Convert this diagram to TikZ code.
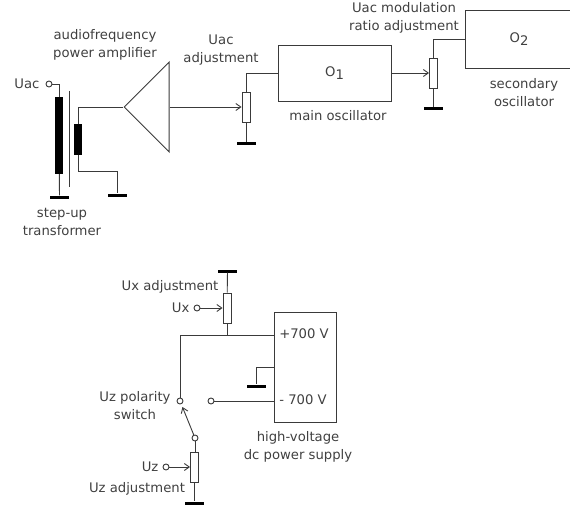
\documentclass[tikz,border=0pt]{standalone}
\usepackage{fontspec}
\setmainfont{DejaVu Sans}
\usetikzlibrary{arrows.meta, positioning, shapes.geometric}
\definecolor{wire}{HTML}{3A3A3A}
\newcommand{\osc}[1]{O\raisebox{-3pt}{#1}}
\tikzset{
  term/.style={circle, draw=wire, minimum size=6pt, inner sep=0pt, line width=0.9pt},
  pot/.style={rectangle, draw=wire, minimum width=8pt, minimum height=30pt, inner sep=0pt, line width=0.9pt},
  coil/.style={rectangle, fill=black, inner sep=0pt},
  gnd/.style={rectangle, fill=black, minimum width=19pt, minimum height=3pt, inner sep=0pt},
  block/.style={rectangle, draw=wire, inner sep=0pt, line width=0.9pt, font=\fontsize{13.2}{15}\selectfont, text=black!75},
  lbl/.style={font=\fontsize{13.2}{15}\selectfont, text=black!75, inner sep=0pt, align=center},
  wired/.style={draw=wire, line width=0.9pt},
}
\begin{document}
\begin{tikzpicture}[x=1pt, y=-1pt, >={Straight Barb[length=5pt,width=7pt]}]
  \useasboundingbox (0,0) rectangle (570,508);
  % transformer
  \node[term] (UacIn) at (49,84) {};
  \node[lbl, left=6pt of UacIn] (UacLbl) {Uac};
  \node[coil, minimum width=8pt, minimum height=77pt] (Prim) at (59,135.5) {};
  \node[coil, minimum width=8pt, minimum height=30pt] (Sec) at (78,139.5) {};
  \node[gnd] (GndPrim) at (59.5,197) {};
  \node[gnd] (GndSec) at (117,195) {};
  \coordinate (SecBend) at (117,171);
  \coordinate (CoreTop) at (69,91);
  \coordinate (CoreBot) at (69,187);
  \node[lbl] (TransLbl) at (62,222) {step-up\\[3pt]transformer};
  % amplifier
  \node[isosceles triangle, isosceles triangle stretches, draw=wire, line width=0.9pt, shape border rotate=180,
        minimum width=90pt, minimum height=45pt, inner sep=0pt, anchor=apex] (Amp) at (123,107) {};
  \node[lbl] (AmpLbl) at (105,45) {audiofrequency\\[3pt]power amplifier};
  % main oscillator
  \node[pot] (PotMain) at (246,107) {};
  \node[gnd] (GndMain) at (246,144) {};
  \node[lbl] (PotMainLbl) at (221,50) {Uac\\[3pt]adjustment};
  \node[block, minimum width=113pt, minimum height=56pt] (OscMain) at (334.5,73) {\osc{1}};
  \node[lbl, below=9pt of OscMain, xshift=3.5pt] (OscMainLbl) {main oscillator};
  % secondary oscillator
  \node[pot] (PotSec) at (433.5,73) {};
  \node[gnd] (GndSec2) at (433.5,109) {};
  \node[lbl] (PotSecLbl) at (404,18) {Uac modulation\\[3pt]ratio adjustment};
  \node[block, minimum width=108pt, minimum height=58pt] (OscSec) at (519,39) {\osc{2}};
  \node[lbl] (OscSecLbl) at (524,93) {secondary\\[3pt]oscillator};
  % power supply
  \node[block, minimum width=62pt, minimum height=110pt] (Supply) at (305,367) {};
  \node[lbl] (PlusLbl) at (304,334) {+700 V};
  \node[lbl] (MinusLbl) at (303,400) {- 700 V};
  \node[lbl] (SupplyLbl) at (298,446.5) {high-voltage\\[3pt]dc power supply};
  \node[gnd] (GndSupply) at (256,386) {};
  \coordinate (SupplyGnd) at (274,367);
  \coordinate (SupplyPlus) at (274,335);
  % Ux branch
  \node[pot] (PotUx) at (227,308) {};
  \node[gnd] (GndUx) at (227.5,271) {};
  \node[term] (UxIn) at (197,308) {};
  \node[lbl, left=4pt of UxIn] (UxLbl) {Ux};
  \node[lbl] (PotUxLbl) at (170,287) {Ux adjustment};
  % polarity switch
  \node[term] (SwA) at (180,401) {};
  \node[term] (SwB) at (211,401) {};
  \node[term] (SwC) at (195,438) {};
  \node[lbl] (SwLbl) at (135,406) {Uz polarity\\[3pt]switch};
  % Uz branch
  \node[pot] (PotUz) at (194.5,467) {};
  \node[gnd] (GndUz) at (194.5,503) {};
  \node[term] (UzIn) at (166,467) {};
  \node[lbl, left=4pt of UzIn] (UzLbl) {Uz};
  \node[lbl] (PotUzLbl) at (137,489) {Uz adjustment};
  % connectors, top row
  \begin{scope}[wired]
    \draw (UacIn) -| (Prim.north);
    \draw (Prim) -- (GndPrim);
    \draw (CoreTop) -- (CoreBot);
    \draw (Sec.north) |- (Amp.apex);
    \draw (Sec.south) |- (SecBend) -- (GndSec);
    \draw[->] (Amp.lower side) -- (PotMain.west);
    \draw (PotMain) -- (GndMain);
    \draw (PotMain.north) |- (OscMain.west);
    \draw[->] (OscMain.east) -- (PotSec.west);
    \draw (PotSec) -- (GndSec2);
    \draw (PotSec.north) |- (OscSec.west);
    % connectors, bottom row
    \draw (GndUx) -- (PotUx);
    \draw (PotUx.south) -- (PotUx.south |- SupplyPlus);
    \draw[->] (UxIn) -- (PotUx.west);
    \draw (SupplyPlus) -| (SwA);
    \draw (SupplyGnd) -| (GndSupply);
    \draw (SwB) -- (SwB -| Supply.west);
    \draw[->, shorten >=3pt] (SwC) -- (SwA);
    \draw (SwC) -- (SwC |- PotUz.north);
    \draw[->] (UzIn) -- (PotUz.west);
    \draw (PotUz) -- (GndUz);
  \end{scope}
\end{tikzpicture}
\end{document}
